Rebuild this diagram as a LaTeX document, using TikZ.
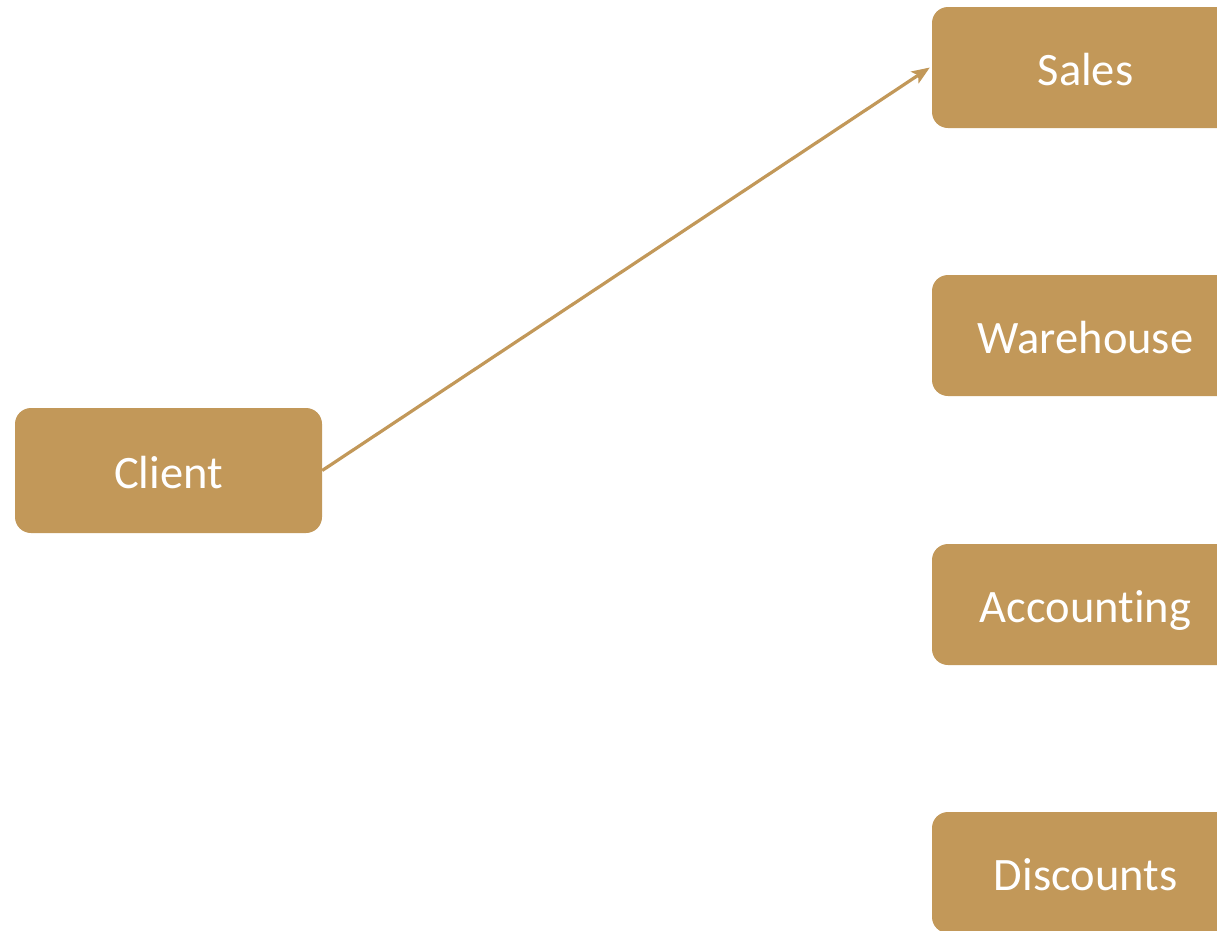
\documentclass[tikz,border=0pt]{standalone}
\usepackage{fontspec}
\setmainfont[Ligatures={NoCommon,NoRare}]{Carlito}
\usetikzlibrary{arrows.meta}
\definecolor{gold}{HTML}{C29859}
\tikzset{
  box/.style={fill=gold, draw=none, rounded corners=16pt, minimum width=307pt, minimum height=121pt,
    text=white, font=\fontsize{46.5}{56}\selectfont, inner sep=0pt, text depth=0pt, text height=35pt},
  link/.style={draw=gold, line width=3.2pt, -{Stealth[length=18pt,width=14pt,inset=4pt]}}
}
\begin{document}
\begin{tikzpicture}[x=1pt,y=-1pt]
\useasboundingbox (0,0) rectangle (1217,930);
\clip (0,0) rectangle (1217,930);
\node[box, minimum height=125pt] (client) at (168.5,470.5) {Client};
\node[box] (sales) at (1085.5,67.5) {Sales};
\node[box] (warehouse) at (1085.5,335.5) {Warehouse};
\node[box] (accounting) at (1085.5,604.5) {Accounting};
\node[box] (discounts) at (1085.5,872.5) {Discounts};
\draw[link] (client.east) -- ([xshift=-2pt]sales.west);
\end{tikzpicture}
\end{document}
